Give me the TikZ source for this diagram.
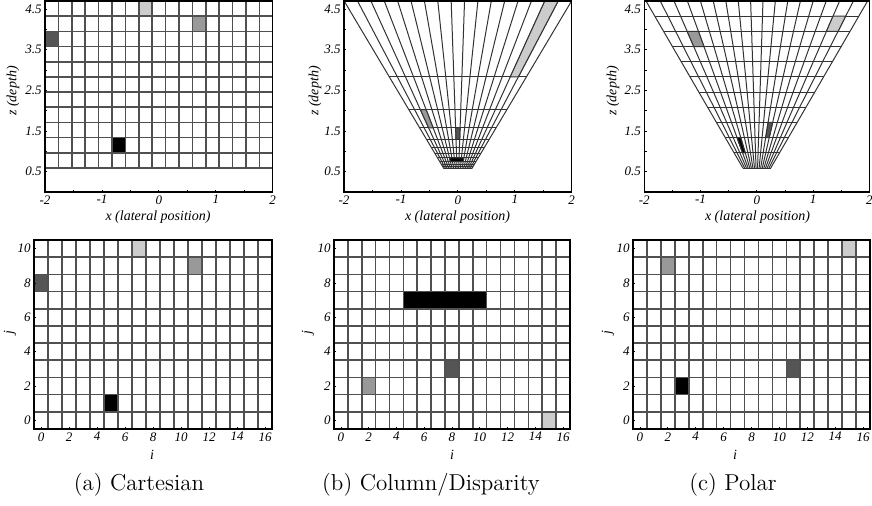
\documentclass[tikz,border=0pt]{standalone}
\usepackage{fontspec}
\newfontfamily\plotfont{Liberation Serif}
\definecolor{CellLight}{RGB}{204,204,204}
\definecolor{CellMid}{RGB}{153,153,153}
\definecolor{CellDark}{RGB}{85,85,85}
\definecolor{GridInk}{RGB}{80,80,80}
\tikzset{
  gridline/.style={draw=GridInk,line width=0.8pt},
  finegrid/.style={draw=black!80,line width=0.5pt},
  framebox/.style={draw=black,line width=0.75pt},
  tickmark/.style={draw=black,line width=0.4pt},
  ticklab/.style={font=\plotfont\itshape\fontsize{6.5}{7}\selectfont,inner sep=1.5pt},
  axislab/.style={font=\plotfont\itshape\fontsize{7}{8}\selectfont,inner sep=0pt},
  caplab/.style={font=\fontsize{11.5}{13}\selectfont,inner sep=0pt}
}

\begin{document}
\begin{tikzpicture}[x=0.5pt,y=-0.5pt]
\useasboundingbox (0,0) rectangle (872,505);

% (a) cartesian cells in x-z
\begin{scope}[shift={(158.85,192)},x=28.46pt,y=20.32pt]
  \foreach \c in {0,...,17}
    \draw[gridline] ({-2+\c*4/17},0.59) -- ({-2+\c*4/17},4.7);
  \foreach \k in {0,...,11}
    \draw[gridline] (-2,{0.59+\k*0.37364}) -- (2,{0.59+\k*0.37364});
  \foreach \c/\k/\s in {7/10/CellLight,11/9/CellMid,0/8/CellDark,5/1/black}
    \filldraw[gridline,fill=\s] ({-2+\c*4/17},{0.59+\k*0.37364}) rectangle ++({4/17},0.37364);
  \draw[framebox] (-2,0) rectangle (2,4.7);
  \foreach \t in {-1.5,-1,...,1.5} \draw[tickmark] (\t,0) -- ++(0,0.06);
  \foreach \t in {0.5,1,...,4.5} \draw[tickmark] (-2,\t) -- ++(0.04,0);
  \foreach \t [count=\n] in {-2,-1,0,1,2} \node[ticklab,anchor=north] (ax\n) at (\t,0) {\t};
  \foreach \t [count=\n] in {0.5,1.5,2.5,3.5,4.5} \node[ticklab,anchor=east] (az\n) at (-2,\t) {\t};
\end{scope}
\node[axislab,rotate=90] (azlab) at (13,91) {z (depth)};
\node[axislab] (axlab) at (158,217) {x (lateral position)};

% (b) column/disparity cells in x-z
\begin{scope}[shift={(457.85,192)},x=28.46pt,y=20.32pt]
  \foreach \c in {0,...,17}
    \draw[finegrid] ({(-0.425+0.05*\c)*0.5701},0.5701) -- ({(-0.425+0.05*\c)*4.7},4.7);
  \foreach \k in {0,...,11} {
    \pgfmathsetmacro\zk{1/(0.21277+0.14011*\k)}
    \draw[finegrid] ({-0.425*\zk},\zk) -- ({0.425*\zk},\zk);
  }
  \foreach \ca/\cb/\j/\s in {15/16/0/CellLight,2/3/2/CellMid,8/9/3/CellDark,5/11/7/black} {
    \pgfmathsetmacro\za{1/(0.21277+0.14011*\j)}
    \pgfmathsetmacro\zb{1/(0.21277+0.14011*(\j+1))}
    \pgfmathsetmacro\sa{-0.425+0.05*\ca}
    \pgfmathsetmacro\sb{-0.425+0.05*\cb}
    \filldraw[finegrid,fill=\s] ({\sa*\za},\za) -- ({\sb*\za},\za) -- ({\sb*\zb},\zb) -- ({\sa*\zb},\zb) -- cycle;
  }
  \draw[framebox] (-2,0) rectangle (2,4.7);
  \foreach \t in {-1.5,-1,...,1.5} \draw[tickmark] (\t,0) -- ++(0,0.06);
  \foreach \t in {0.5,1,...,4.5} \draw[tickmark] (-2,\t) -- ++(0.04,0);
  \foreach \t [count=\n] in {-2,-1,0,1,2} \node[ticklab,anchor=north] (bx\n) at (\t,0) {\t};
  \foreach \t [count=\n] in {0.5,1.5,2.5,3.5,4.5} \node[ticklab,anchor=east] (bz\n) at (-2,\t) {\t};
\end{scope}
\node[axislab,rotate=90] (bzlab) at (315,91) {z (depth)};
\node[axislab] (bxlab) at (457.5,217) {x (lateral position)};

% (c) polar cells in x-z
\begin{scope}[shift={(756.8,192)},x=28.125pt,y=20.32pt]
  \foreach \c in {0,...,17} {
    \pgfmathsetmacro\tc{tan(-22.74+2.6753*\c)}
    \draw[finegrid] ({\tc*0.59},0.59) -- ({\tc*4.7},4.7);
  }
  \foreach \k in {0,...,11} {
    \pgfmathsetmacro\zk{0.59+0.37364*\k}
    \draw[finegrid] ({-0.4191*\zk},\zk) -- ({0.4191*\zk},\zk);
  }
  \foreach \ca/\k/\s in {15/9/CellLight,2/8/CellMid,11/2/CellDark,3/1/black} {
    \pgfmathsetmacro\za{0.59+0.37364*\k}
    \pgfmathsetmacro\zb{0.59+0.37364*(\k+1)}
    \pgfmathsetmacro\ta{tan(-22.74+2.6753*\ca)}
    \pgfmathsetmacro\tb{tan(-22.74+2.6753*(\ca+1))}
    \filldraw[finegrid,fill=\s] ({\ta*\za},\za) -- ({\tb*\za},\za) -- ({\tb*\zb},\zb) -- ({\ta*\zb},\zb) -- cycle;
  }
  \draw[framebox] (-2,0) rectangle (2,4.7);
  \foreach \t in {-1.5,-1,...,1.5} \draw[tickmark] (\t,0) -- ++(0,0.06);
  \foreach \t in {0.5,1,...,4.5} \draw[tickmark] (-2,\t) -- ++(0.04,0);
  \foreach \t [count=\n] in {-2,-1,0,1,2} \node[ticklab,anchor=north] (cx\n) at (\t,0) {\t};
  \foreach \t [count=\n] in {0.5,1.5,2.5,3.5,4.5} \node[ticklab,anchor=east] (cz\n) at (-2,\t) {\t};
\end{scope}
\node[axislab,rotate=90] (czlab) at (613,91) {z (depth)};
\node[axislab] (cxlab) at (757.5,217) {x (lateral position)};

% index images i-j
\begin{scope}[shift={(34,429)},x=7pt,y=8.59pt]
  \foreach \i in {0,...,17} \draw[gridline] (\i,0) -- (\i,11);
  \foreach \j in {0,...,11} \draw[gridline] (0,\j) -- (17,\j);
  \foreach \i/\j/\s in {7/10/CellLight,11/9/CellMid,0/8/CellDark,5/1/black}
    \filldraw[gridline,fill=\s] (\i,\j) rectangle ++(1,1);
  \draw[framebox] (0,0) rectangle (17,11);
  \foreach \i in {0,2,...,16} {
    \draw[tickmark] (\i+0.5,0) -- ++(0,0.12);
    \node[ticklab,anchor=north] (ai\i) at (\i+0.5,0) {\i};
  }
  \foreach \j in {0,2,...,10} {
    \draw[tickmark] (0,\j+0.5) -- ++(0.15,0);
    \node[ticklab,anchor=east] (aj\j) at (0,\j+0.5) {\j};
  }
\end{scope}
\node[axislab] (ailab) at (152,455) {i};
\node[axislab,rotate=90] (ajlab) at (10,333) {j};
\node[caplab] (acap) at (139,485) {(a) Cartesian};

\begin{scope}[shift={(334,429)},x=6.94pt,y=8.59pt]
  \foreach \i in {0,...,17} \draw[gridline] (\i,0) -- (\i,11);
  \foreach \j in {0,...,11} \draw[gridline] (0,\j) -- (17,\j);
  \foreach \i/\w/\j/\s in {15/1/0/CellLight,2/1/2/CellMid,8/1/3/CellDark,5/6/7/black}
    \filldraw[gridline,fill=\s] (\i,\j) rectangle ++(\w,1);
  \draw[framebox] (0,0) rectangle (17,11);
  \foreach \i in {0,2,...,16} {
    \draw[tickmark] (\i+0.5,0) -- ++(0,0.12);
    \node[ticklab,anchor=north] (bi\i) at (\i+0.5,0) {\i};
  }
  \foreach \j in {0,2,...,10} {
    \draw[tickmark] (0,\j+0.5) -- ++(0.15,0);
    \node[ticklab,anchor=east] (bj\j) at (0,\j+0.5) {\j};
  }
\end{scope}
\node[axislab] (bilab) at (452,455) {i};
\node[axislab,rotate=90] (bjlab) at (308,333) {j};
\node[caplab] (bcap) at (431,485) {(b) Column/Disparity};

\begin{scope}[shift={(633,429)},x=6.97pt,y=8.59pt]
  \foreach \i in {0,...,17} \draw[gridline] (\i,0) -- (\i,11);
  \foreach \j in {0,...,11} \draw[gridline] (0,\j) -- (17,\j);
  \foreach \i/\j/\s in {15/10/CellLight,2/9/CellMid,11/3/CellDark,3/2/black}
    \filldraw[gridline,fill=\s] (\i,\j) rectangle ++(1,1);
  \draw[framebox] (0,0) rectangle (17,11);
  \foreach \i in {0,2,...,16} {
    \draw[tickmark] (\i+0.5,0) -- ++(0,0.12);
    \node[ticklab,anchor=north] (ci\i) at (\i+0.5,0) {\i};
  }
  \foreach \j in {0,2,...,10} {
    \draw[tickmark] (0,\j+0.5) -- ++(0.15,0);
    \node[ticklab,anchor=east] (cj\j) at (0,\j+0.5) {\j};
  }
\end{scope}
\node[axislab] (cilab) at (735,455) {i};
\node[axislab,rotate=90] (cjlab) at (608,333) {j};
\node[caplab] (ccap) at (733,485) {(c) Polar};
\end{tikzpicture}
\end{document}
